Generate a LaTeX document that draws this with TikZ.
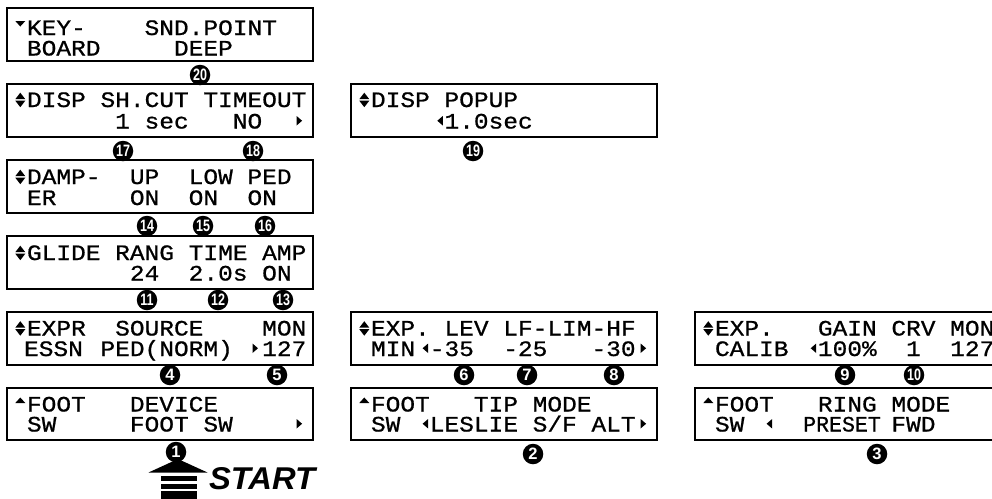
\documentclass[tikz,border=0pt]{standalone}
\usepackage{fontspec}
\usepackage{graphicx}
\newfontfamily\lcdfont[FakeStretch=1.114,FakeBold=0.8]{Liberation Mono}
\newfontfamily\numfont{Liberation Sans}
\newfontfamily\startfont[FakeStretch=1.04]{Liberation Sans}
\newcounter{lwc}
% word on the LCD grid: column, baseline offset, text
\newcommand\lw[3]{\stepcounter{lwc}\node[lcdtxt] (w\thelwc) at ({5.3+14.7*#1},#2) {#3};}
% glyph triangles (column, baseline)
\newcommand\rtri[2]{\fill ({6.3+14.7*#1+4},#2-12.5) -- ({6.3+14.7*#1+4},#2-3) -- ({6.3+14.7*#1+9.5},#2-7.75) -- cycle;}
\newcommand\ltri[2]{\fill ({6.3+14.7*#1+12},#2-12.5) -- ({6.3+14.7*#1+12},#2-3) -- ({6.3+14.7*#1+6.5},#2-7.75) -- cycle;}
\newcommand\udtri[1]{\fill (8.3,#1-7.8) -- (18.3,#1-7.8) -- (13.3,#1-14.3) -- cycle;
  \fill (8.3,#1-6.3) -- (18.3,#1-6.3) -- (13.3,#1+0.2) -- cycle;}
\newcommand\dntri[1]{\fill (8.3,#1-14) -- (18.3,#1-14) -- (13.3,#1-8.5) -- cycle;}
\newcommand\uptri[1]{\fill (8.3,#1-8.5) -- (18.3,#1-8.5) -- (13.3,#1-14) -- cycle;}
\newcommand\cnum[3]{\node[callout] (n#3) at (#1,#2) {\ifnum#3>9 \scalebox{0.76}[1]{#3}\else #3\fi};}
\tikzset{
  lcdbox/.style={draw=black, line width=2pt, minimum width=306pt, minimum height=52.5pt,
    anchor=north west, inner sep=0pt, outer sep=0pt},
  lcdtxt/.style={anchor=base west, inner sep=0pt, outer sep=0pt,
    font=\lcdfont\fontsize{22}{22}\selectfont, text=black},
  callout/.style={circle, fill=black, minimum size=20.5pt, inner sep=0pt, text=white,
    font=\numfont\bfseries\fontsize{16.5}{16.5}\selectfont},
  starttxt/.style={anchor=base west, inner sep=0pt, outer sep=0pt,
    font=\startfont\bfseries\itshape\fontsize{31.5}{31.5}\selectfont},
}
\begin{document}
\begin{tikzpicture}[x=1pt, y=-1pt]
\useasboundingbox (0,0) rectangle (992,498);
\clip (0,0) rectangle (992,498);
\fill[white] (0,0) rectangle (992,498);

% ---------- Box A: KEYBOARD ----------
\begin{scope}[shift={(7,8)}]
  \node[lcdbox] (A) at (0,0) {};
  \dntri{27}
  \lw{1}{27}{KEY-} \lw{9}{27}{SND.POINT}
  \lw{1}{47.5}{BOARD} \lw{11}{47.5}{DEEP}
\end{scope}

% ---------- Box B: DISP SH.CUT ----------
\begin{scope}[shift={(7,84)}]
  \node[lcdbox] (B) at (0,0) {};
  \udtri{23}
  \lw{1}{23}{DISP} \lw{6}{23}{SH.CUT} \lw{13}{23}{TIMEOUT}
  \lw{7}{44.5}{1} \lw{9}{44.5}{sec} \lw{15}{44.5}{NO} \rtri{19}{44.5}
\end{scope}

% ---------- Box C: DAMPER ----------
\begin{scope}[shift={(7,160)}]
  \node[lcdbox] (C) at (0,0) {};
  \udtri{24}
  \lw{1}{24}{DAMP-} \lw{8}{24}{UP} \lw{12}{24}{LOW} \lw{16}{24}{PED}
  \lw{1}{45}{ER} \lw{8}{45}{ON} \lw{12}{45}{ON} \lw{16}{45}{ON}
\end{scope}

% ---------- Box D: GLIDE ----------
\begin{scope}[shift={(7,236)}]
  \node[lcdbox] (D) at (0,0) {};
  \udtri{24}
  \lw{1}{24}{GLIDE} \lw{7}{24}{RANG} \lw{12}{24}{TIME} \lw{17}{24}{AMP}
  \lw{8}{44.5}{24} \lw{12}{44.5}{2.0s} \lw{17}{44.5}{ON}
\end{scope}

% ---------- Box E: EXPR ----------
\begin{scope}[shift={(7,312)}]
  \node[lcdbox] (E) at (0,0) {};
  \udtri{23.5}
  \lw{1}{23.5}{EXPR} \lw{7}{23.5}{SOURCE} \lw{17}{23.5}{MON}
  \lw{0.8}{44}{ESSN} \lw{6}{44}{PED(NORM)} \rtri{16}{44} \lw{17}{44}{127}
\end{scope}

% ---------- Box F: FOOT SW DEVICE ----------
\begin{scope}[shift={(7,387.5)}]
  \node[lcdbox] (F) at (0,0) {};
  \uptri{24}
  \lw{1}{24}{FOOT} \lw{8}{24}{DEVICE}
  \lw{1}{44}{SW} \lw{8}{44}{FOOT} \lw{13}{44}{SW} \rtri{19}{44}
\end{scope}

% ---------- Box G: DISP POPUP ----------
\begin{scope}[shift={(351,84)}]
  \node[lcdbox] (G) at (0,0) {};
  \udtri{23}
  \lw{1}{23}{DISP} \lw{6}{23}{POPUP}
  \ltri{5}{44.5} \lw{6}{44.5}{1.0sec}
\end{scope}

% ---------- Box H: EXP. LEV ----------
\begin{scope}[shift={(351,312)}]
  \node[lcdbox] (H) at (0,0) {};
  \udtri{23.5}
  \lw{1}{23.5}{EXP.} \lw{6}{23.5}{LEV} \lw{10}{23.5}{LF-LIM-HF}
  \lw{1}{44}{MIN} \ltri{4}{44} \lw{5}{44}{-35} \lw{10}{44}{-25} \lw{16}{44}{-30} \rtri{19}{44}
\end{scope}

% ---------- Box I: EXP. CALIB ----------
\begin{scope}[shift={(695,312)}]
  \node[lcdbox] (I) at (0,0) {};
  \udtri{23.5}
  \lw{1}{23.5}{EXP.} \lw{8}{23.5}{GAIN} \lw{13}{23.5}{CRV} \lw{17}{23.5}{MON}
  \lw{1}{44}{CALIB} \ltri{7}{44} \lw{8}{44}{100\%} \lw{14}{44}{1} \lw{17}{44}{127}
\end{scope}

% ---------- Box J: FOOT SW TIP MODE ----------
\begin{scope}[shift={(351,387.5)}]
  \node[lcdbox] (J) at (0,0) {};
  \uptri{24}
  \lw{1}{24}{FOOT} \lw{8}{24}{TIP} \lw{12}{24}{MODE}
  \lw{1}{44}{SW} \ltri{4}{44} \lw{5}{44}{LESLIE} \lw{12}{44}{S/F} \lw{16}{44}{ALT} \rtri{19}{44}
\end{scope}

% ---------- Box K: FOOT SW RING MODE ----------
\begin{scope}[shift={(695,387.5)}]
  \node[lcdbox] (K) at (0,0) {};
  \uptri{24}
  \lw{1}{24}{FOOT} \lw{8}{24}{RING} \lw{13}{24}{MODE}
  \lw{1}{44}{SW} \ltri{4}{44} \lw{7}{44}{\scalebox{0.88}[1]{PRESET}} \lw{13}{44}{FWD}
\end{scope}

% ---------- numbered callouts ----------
\cnum{200}{75}{20}
\cnum{123}{151}{17} \cnum{253}{151}{18}
\cnum{147}{226}{14} \cnum{203}{226}{15} \cnum{265}{226}{16}
\cnum{147}{300}{11} \cnum{218}{300}{12} \cnum{283}{300}{13}
\cnum{170}{375}{4} \cnum{277}{375}{5}
\cnum{176}{452}{1}
\cnum{473}{151}{19}
\cnum{464}{375}{6} \cnum{527}{375}{7} \cnum{614}{375}{8}
\cnum{845}{375}{9} \cnum{914}{375}{10}
\cnum{533}{454}{2} \cnum{877}{454}{3}

% ---------- START arrow ----------
\fill (178,459) -- (207.5,472.5) -- (148.5,472.5) -- cycle;
\fill (160.5,476) rectangle (197,481);
\fill (160.5,483.5) rectangle (197,488.5);
\fill (160.5,491) rectangle (197,499);
\node[starttxt] (start) at (209,489.5) {START};
\end{tikzpicture}
\end{document}
